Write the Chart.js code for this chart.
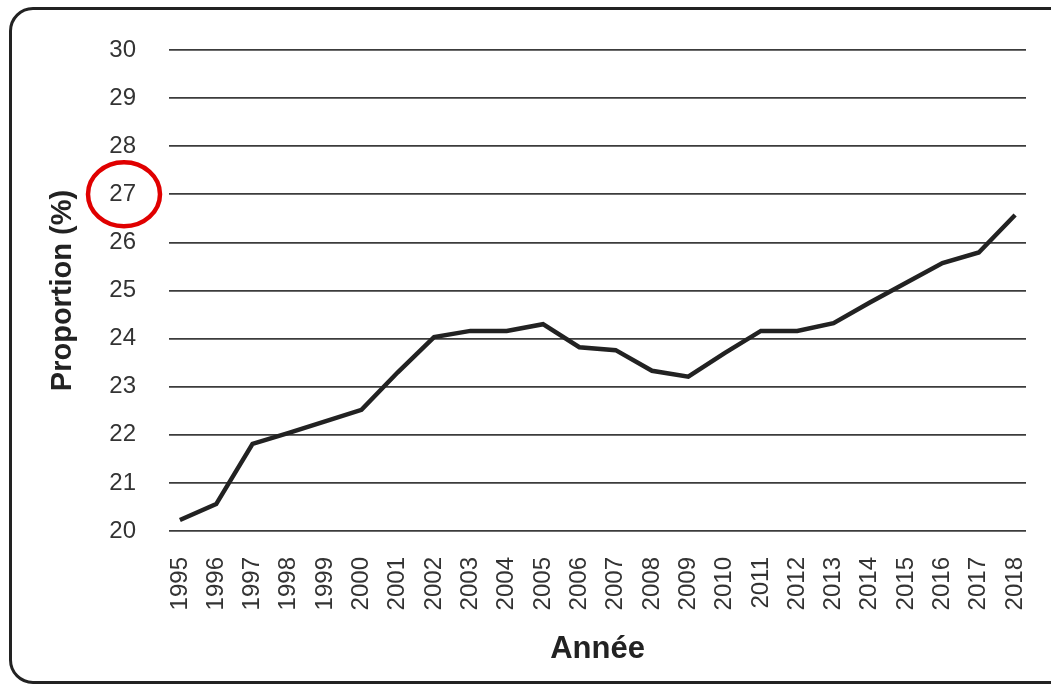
<!DOCTYPE html>
<html lang="fr">
<head>
<meta charset="utf-8">
<title>Proportion (%) par année</title>
<script src="https://cdn.jsdelivr.net/npm/chart.js@4"></script>
<style>
  html, body { margin: 0; padding: 0; background: #fff; overflow: hidden; }
  #wrap { position: relative; width: 1051px; height: 688px; }
  #frame {
    position: absolute; left: 9px; top: 7px; width: 1100px; height: 677px;
    border: 3px solid #222; border-radius: 24px; box-sizing: border-box;
  }
  canvas { position: absolute; left: 0; top: 0; }
</style>
</head>
<body>
<div id="wrap">
  <div id="frame"></div>
  <canvas id="proportionChart" width="1051" height="688"></canvas>
</div>
<script>
// données
const annees = [1995, 1996, 1997, 1998, 1999, 2000, 2001, 2002, 2003, 2004, 2005, 2006,
  2007, 2008, 2009, 2010, 2011, 2012, 2013, 2014, 2015, 2016, 2017, 2018];
const proportion = [20.23, 20.56, 21.81, 22.04, 22.28, 22.52, 23.3, 24.03, 24.16, 24.16, 24.3, 23.82,
  23.76, 23.33, 23.21, 23.7, 24.16, 24.16, 24.32, 24.75, 25.16, 25.57, 25.79, 26.57];
const yTicks = [20, 21, 22, 23, 24, 25, 26, 27, 28, 29, 30];
const valeurEntouree = 27;

// cercle rouge autour de l'étiquette 27
const circlePlugin = {
  id: "circleLabel",
  afterDraw(chart) {
    const y = chart.scales.y.getPixelForValue(valeurEntouree);
    const ctx = chart.ctx;
    ctx.save();
    ctx.strokeStyle = "#e00000";
    ctx.lineWidth = 4.5;
    ctx.beginPath();
    ctx.ellipse(124, y, 36, 32, 0, 0, Math.PI * 2);
    ctx.stroke();
    ctx.restore();
  }
};

function renderChart() {
  const ctx = document.getElementById("proportionChart").getContext("2d");
  new Chart(ctx, {
    type: "line",
    data: {
      datasets: [{
        label: "Proportion (%)",
        data: annees.map((a, i) => ({ x: a, y: proportion[i] })),
        borderColor: "#222",
        borderWidth: 4.5,
        pointRadius: 0,
        tension: 0,
        fill: false
      }]
    },
    options: {
      responsive: false,
      animation: false,
      layout: { padding: { left: 0, right: 25, top: 50, bottom: 20 } },
      scales: {
        x: {
          type: "linear",
          min: 1994.7,
          max: 2018.3,
          afterBuildTicks: axis => { axis.ticks = annees.map(v => ({ value: v })); },
          afterFit: scale => {
            scale.height = 137;
            scale.paddingLeft = 0;
            scale.paddingRight = 0;
          },
          grid: { display: false, drawTicks: false },
          border: { display: false },
          ticks: {
            autoSkip: false,
            maxRotation: 90,
            minRotation: 90,
            padding: 26,
            color: "#333",
            font: { family: "'Liberation Sans', Arial, sans-serif", size: 24 },
            callback: v => String(v)
          },
          title: {
            display: true,
            text: "Année",
            color: "#222",
            padding: { top: 20, bottom: 0 },
            font: { family: "'Liberation Sans', Arial, sans-serif", size: 31, weight: "bold" }
          }
        },
        y: {
          min: 20,
          max: 30,
          afterBuildTicks: axis => { axis.ticks = yTicks.map(v => ({ value: v })); },
          afterFit: scale => { scale.width = 169; },
          grid: { color: "#3c3c3c", lineWidth: 1.8, drawTicks: false },
          border: { display: false },
          ticks: {
            padding: 33,
            color: "#333",
            font: { family: "'Liberation Sans', Arial, sans-serif", size: 24 }
          },
          title: {
            display: true,
            text: "Proportion (%)",
            color: "#222",
            padding: { top: 46, bottom: 0 },
            font: { family: "'Liberation Sans', Arial, sans-serif", size: 29, weight: "bold" }
          }
        }
      },
      plugins: {
        legend: { display: false },
        tooltip: { enabled: false }
      }
    },
    plugins: [circlePlugin]
  });
}

document.addEventListener("DOMContentLoaded", renderChart);
</script>
</body>
</html>
